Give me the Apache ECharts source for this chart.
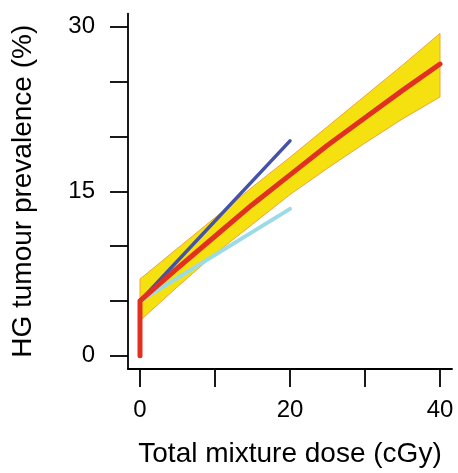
<!DOCTYPE html>
<html>
<head>
<meta charset="utf-8">
<style>
html,body{margin:0;padding:0;background:#fff;}
#chart{width:458px;height:473px;}
</style>
<script src="https://cdn.jsdelivr.net/npm/echarts@6/dist/echarts.min.js"></script>
</head>
<body>
<div id="chart"></div>
<script>
// Data
var xTicks = [0, 10, 20, 30, 40];
var xTickLabels = [0, 20, 40];
var yTicks = [0, 5, 10, 15, 20, 25, 30];
var yTickLabels = [0, 15, 30];

var bandX     = [0,   5,   10,   15,   20,   25,   30,   35,   40];
var bandUpper = [7.0, 9.8, 12.6, 15.4, 18.1, 20.9, 23.7, 26.5, 29.4];
var bandLower = [3.2, 6.3, 9.3,  12.0, 14.7, 17.1, 19.4, 21.6, 23.6];

var fitX = [0,   0,   5,   10,   15,   20,   25,   30,   35,   40];
var fitY = [0.0, 5.0, 8.0, 10.9, 13.8, 16.5, 19.2, 21.7, 24.2, 26.6];

var darkX = [0, 20];
var darkY = [5.0, 19.6];

var lightX = [0, 20];
var lightY = [5.0, 13.4];

function pairs(xs, ys){ return xs.map(function(x,i){ return [x, ys[i]]; }); }

var FONT = '"Liberation Sans", Arial, sans-serif';
var chart = echarts.init(document.getElementById('chart'), null, {renderer:'canvas'});
chart.setOption({
  animation: false,
  backgroundColor: '#ffffff',
  grid: {left: 128, right: 6, top: 13.6, bottom: 98.6, containLabel: false},
  xAxis: {
    type: 'value', min: -1.6, max: 41.6,
    splitLine: {show: false},
    axisLine: {onZero: false, lineStyle: {color: '#000', width: 1.8}},
    axisTick: {show: true, inside: false, length: 18, customValues: xTicks, lineStyle: {color: '#000', width: 1.8}},
    axisLabel: {customValues: xTickLabels, margin: 29, color: '#000', fontSize: 24, fontFamily: FONT},
    name: 'Total mixture dose (cGy)', nameLocation: 'middle', nameGap: 71,
    nameTextStyle: {color: '#000', fontSize: 28, fontFamily: FONT}
  },
  yAxis: {
    type: 'value', min: -1.2, max: 31.2,
    splitLine: {show: false},
    axisLine: {onZero: false, lineStyle: {color: '#000', width: 1.8}},
    axisTick: {show: true, inside: false, length: 18, customValues: yTicks, lineStyle: {color: '#000', width: 1.8}},
    axisLabel: {customValues: yTickLabels, margin: 33, color: '#000', fontSize: 24, fontFamily: FONT},
    name: 'HG tumour prevalence (%)', nameLocation: 'middle', nameGap: 91,
    nameTextStyle: {color: '#000', fontSize: 28, fontFamily: FONT}
  },
  series: [
    {
      type: 'custom',
      data: [[0, 0]],
      encode: {x: 0, y: 1},
      renderItem: function(params, api){
        var pts = [];
        for (var i = 0; i < bandX.length; i++) pts.push(api.coord([bandX[i], bandUpper[i]]));
        for (var j = bandX.length - 1; j >= 0; j--) pts.push(api.coord([bandX[j], bandLower[j]]));
        return {type: 'polygon', shape: {points: pts},
                style: {fill: '#F4E10F', stroke: '#F2A43A', lineWidth: 1}};
      },
      silent: true
    },
    {
      type: 'line', data: pairs(darkX, darkY), showSymbol: false, symbol: 'none',
      lineStyle: {color: '#4453A8', width: 3.5, cap: 'round', join: 'round'}, silent: true
    },
    {
      type: 'line', data: pairs(lightX, lightY), showSymbol: false, symbol: 'none',
      lineStyle: {color: '#9ADBE6', width: 4, cap: 'round', join: 'round'}, silent: true
    },
    {
      type: 'line', data: pairs(fitX, fitY), showSymbol: false, symbol: 'none',
      lineStyle: {color: '#E1301F', width: 5, cap: 'round', join: 'round'}, silent: true
    }
  ]
});
</script>
</body>
</html>
